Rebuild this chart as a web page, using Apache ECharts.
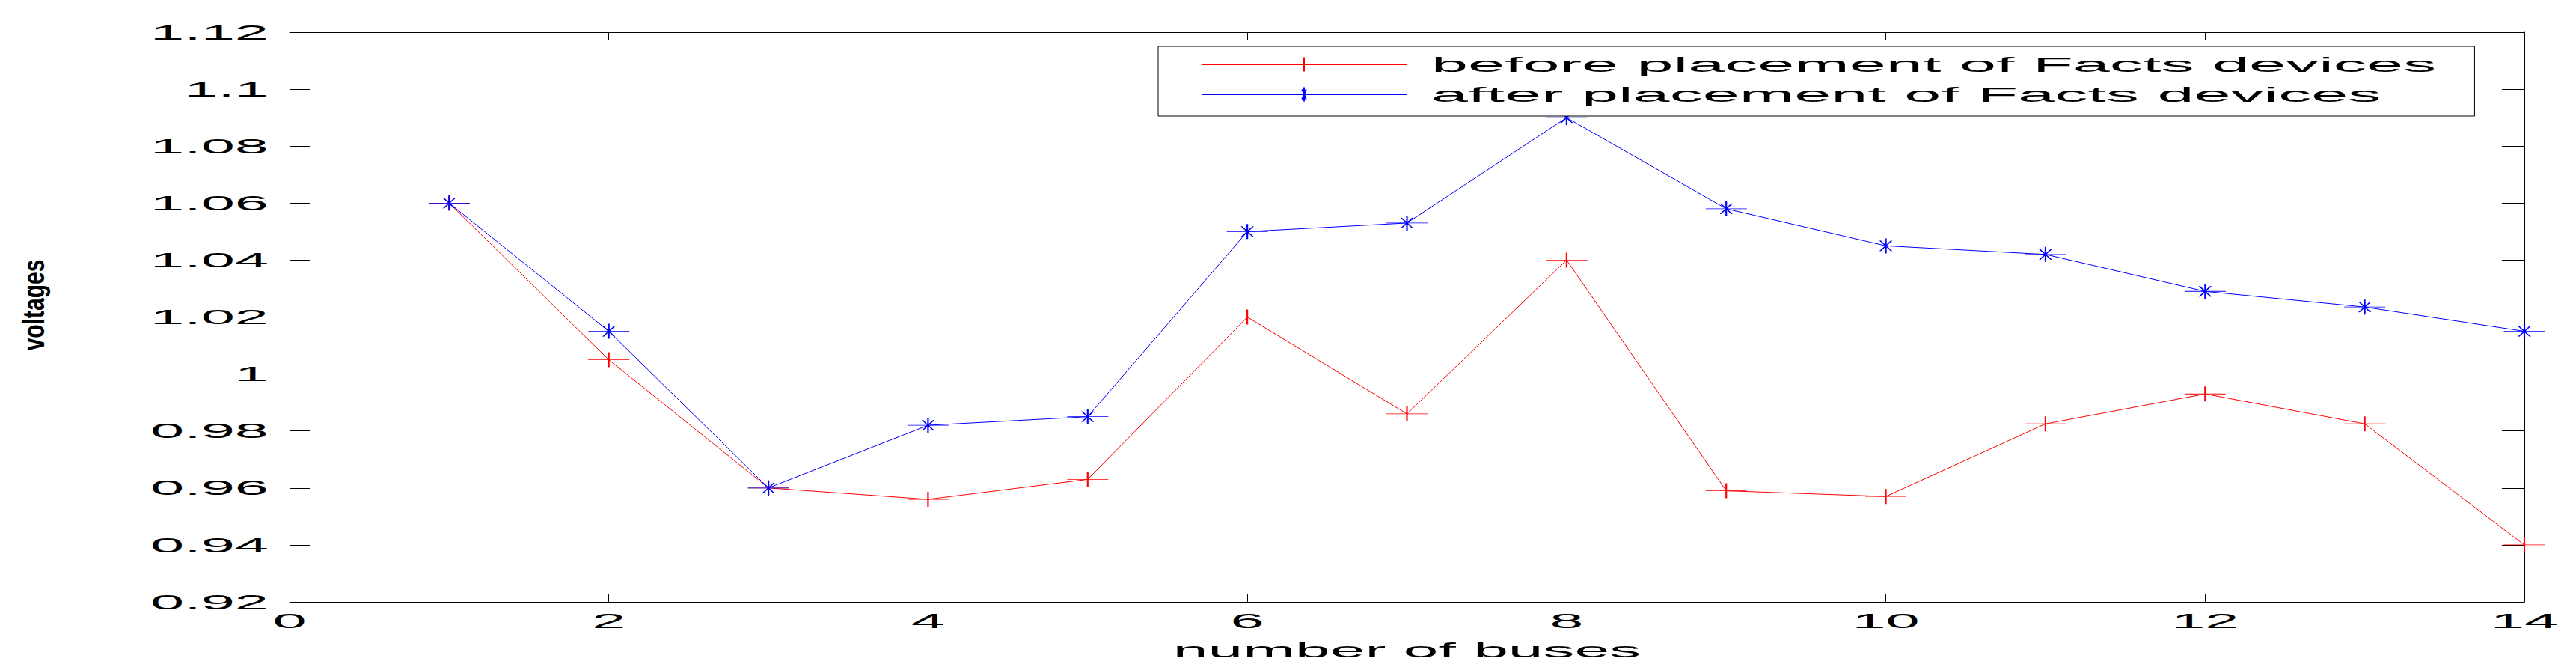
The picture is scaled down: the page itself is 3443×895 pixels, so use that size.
<!DOCTYPE html>
<html><head><meta charset="utf-8">
<script src="https://cdn.jsdelivr.net/npm/echarts@6/dist/echarts.min.js"></script>
<style>html,body{margin:0;padding:0;background:#fff}#c{width:3443px;height:895px}</style>
</head><body><div id="c"></div>
<script>
// ---- data ----
const buses = [1, 2, 3, 4, 5, 6, 7, 8, 9, 10, 11, 12, 13, 14];
const beforeValues = [1.06, 1.005, 0.96, 0.956, 0.963, 1.02, 0.986, 1.04, 0.959, 0.957, 0.9825, 0.993, 0.9825, 0.94];
const afterValues = [1.06, 1.015, 0.96, 0.982, 0.985, 1.05, 1.053, 1.09, 1.058, 1.045, 1.042, 1.029, 1.0235, 1.015];
const seriesNames = ['before placement of Facts devices', 'after placement of Facts devices'];
const xTickLabels = ['0', '2', '4', '6', '8', '10', '12', '14'];
const yTickLabels = ['0.92', '0.94', '0.96', '0.98', '1', '1.02', '1.04', '1.06', '1.08', '1.1', '1.12'];
const xAxisName = 'number of buses';
const yAxisName = 'voltages';

const FONT = 'Liberation Sans';
const FS = 28;
const mctx = document.createElement('canvas').getContext('2d');
mctx.font = FS + 'px "' + FONT + '"';
const legendTextW = Math.max(...seriesNames.map(n => mctx.measureText(n).width));
// legend box spans x 1548..3306 in the reference
const legPadL = 57, legIconW = 274, legTextPad = 28;
const legPadR = Math.max(10, Math.round(1758 - legPadL - legIconW - 5 - legTextPad - legendTextW));

const plusPath = 'path://M0 10 L100 10 M50 0 L50 20';
const starPath = 'path://M0 10 L100 10 M50 0 L50 20 M36 3 L64 17 M36 17 L64 3';

const axisLineStyle = { color: '#000', width: 1 };
const baseText = { fontFamily: FONT, fontSize: FS, color: '#000' };
const el = document.getElementById('c');
const chart = echarts.init(el, null, { renderer: 'svg' });
const option = {
  animation: false,
  backgroundColor: '#fff',
  textStyle: { fontFamily: FONT },
  grid: { left: 387, right: 69, top: 43, bottom: 91, containLabel: false },
  legend: {
    orient: 'vertical', left: 1548, top: 62,
    padding: [10, legPadR, 15, legPadL],
    itemWidth: legIconW, itemHeight: 24, itemGap: 12,
    borderColor: '#000', borderWidth: 1, borderRadius: 0, backgroundColor: '#fff',
    textStyle: Object.assign({ padding: [0, 0, 0, legTextPad] }, baseText),
    data: seriesNames
  },
  xAxis: [{
    type: 'value', min: 0, max: 14, interval: 2, position: 'bottom',
    axisLine: { show: true, onZero: false, lineStyle: axisLineStyle },
    axisTick: { show: true, inside: true, length: 10, lineStyle: axisLineStyle },
    axisLabel: Object.assign({ margin: 11, formatter: v => xTickLabels[Math.round(v / 2)] }, baseText),
    splitLine: { show: false },
    name: xAxisName, nameLocation: 'middle', nameGap: 50,
    nameTextStyle: baseText
  }, {
    type: 'value', min: 0, max: 14, interval: 2, position: 'top',
    axisLine: { show: true, onZero: false, lineStyle: axisLineStyle },
    axisTick: { show: true, inside: true, length: 10, lineStyle: axisLineStyle },
    axisLabel: { show: false }, splitLine: { show: false }
  }],
  yAxis: [{
    type: 'value', min: 0.92, max: 1.12, interval: 0.02, position: 'left',
    axisLine: { show: true, onZero: false, lineStyle: axisLineStyle },
    axisTick: { show: true, inside: true, length: 28, lineStyle: axisLineStyle },
    axisLabel: Object.assign({ margin: 28, formatter: v => yTickLabels[Math.round((v - 0.92) / 0.02)] }, baseText),
    splitLine: { show: false },
    name: yAxisName, nameLocation: 'middle', nameGap: 327, nameRotate: 90,
    nameTextStyle: { fontSize: 30, fontWeight: 'bold', fontFamily: FONT, color: '#000', padding: [0, 0, 0, 32] }
  }, {
    type: 'value', min: 0.92, max: 1.12, interval: 0.02, position: 'right',
    axisLine: { show: true, onZero: false, lineStyle: axisLineStyle },
    axisTick: { show: true, inside: true, length: 30, lineStyle: axisLineStyle },
    axisLabel: { show: false }, splitLine: { show: false }
  }],
  series: [{
    name: seriesNames[0], type: 'line', xAxisIndex: 0, yAxisIndex: 0,
    data: buses.map((b, i) => [b, beforeValues[i]]),
    symbol: plusPath, symbolSize: [55, 20], showAllSymbol: true,
    lineStyle: { color: '#ff0000', width: 1 },
    itemStyle: { color: '#ff0000', borderColor: '#ff0000', borderWidth: 1.3 }
  }, {
    name: seriesNames[1], type: 'line', xAxisIndex: 0, yAxisIndex: 0,
    data: buses.map((b, i) => [b, afterValues[i]]),
    symbol: starPath, symbolSize: [55, 20], showAllSymbol: true,
    lineStyle: { color: '#0000ff', width: 1 },
    itemStyle: { color: '#0000ff', borderColor: '#0000ff', borderWidth: 1.3 }
  }]
};
chart.setOption(option);

// The reference figure's lettering is stretched horizontally; widen the SVG text glyphs in place.
function stretchTexts() {
  el.querySelectorAll('svg text').forEach(t => {
    const s = (t.textContent || '').trim();
    let sx = 0, sy = 1;
    if (seriesNames.indexOf(s) >= 0) sx = 3.15;
    else if (xTickLabels.indexOf(s) >= 0 || yTickLabels.indexOf(s) >= 0) sx = 2.9;
    else if (s === xAxisName) sx = 3.0;
    else if (s === yAxisName) { sx = 1; sy = 1.35; }
    if (!sx) return;
    const tr = t.getAttribute('transform') || '';
    if (tr.indexOf('scale(') >= 0) return;
    const x = parseFloat(t.getAttribute('x') || '0') || 0;
    const y = parseFloat(t.getAttribute('y') || '0') || 0;
    t.setAttribute('transform', (tr ? tr + ' ' : '') + 'translate(' + x + ' ' + y + ') scale(' + sx + ' ' + sy + ') translate(' + (-x) + ' ' + (-y) + ')');
  });
}
stretchTexts();
chart.on('finished', stretchTexts);
setTimeout(stretchTexts, 30);
setTimeout(stretchTexts, 200);
setTimeout(stretchTexts, 600);
</script>
</body></html>
